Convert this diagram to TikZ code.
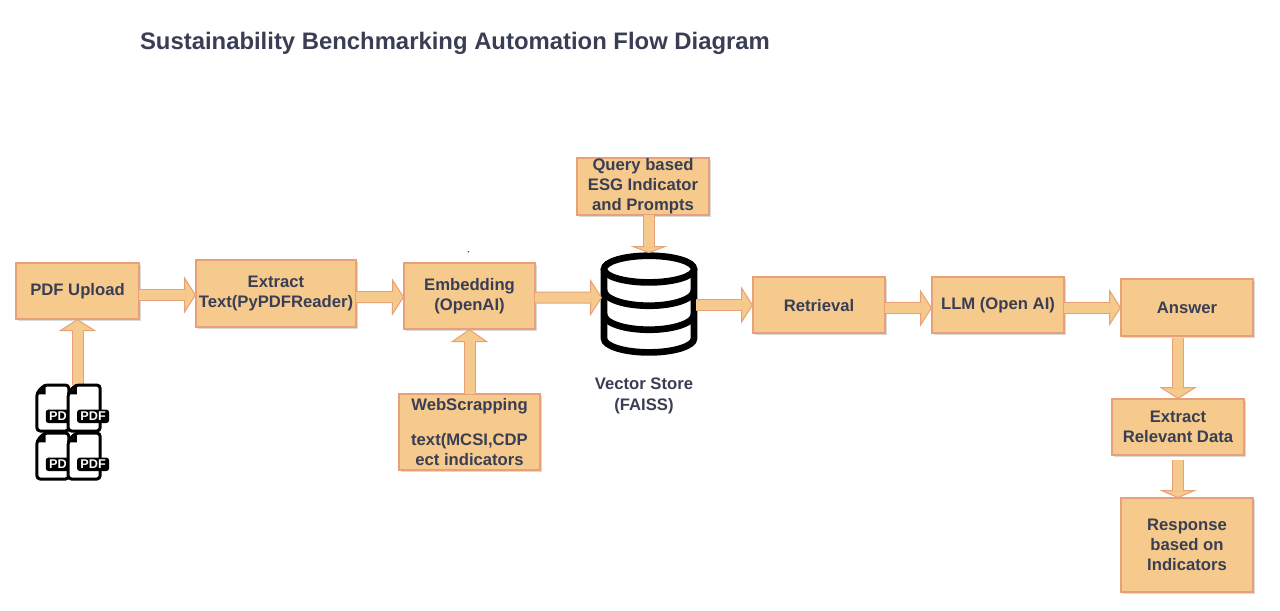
\documentclass[tikz,border=0pt]{standalone}
\usepackage{fontspec}
\setmainfont{Liberation Sans}
\usepackage{tikz}
\usetikzlibrary{arrows.meta,positioning,shadows}
\usepackage{xcolor}
\definecolor{boxfill}{RGB}{245,202,140}
\definecolor{boxedge}{RGB}{232,160,120}
\definecolor{inktext}{RGB}{58,62,84}

\begin{document}
\begin{tikzpicture}[>=Stealth, x=1pt, y=1pt]
\tikzset{
  n/.style={draw=boxedge, line width=1pt, fill=boxfill, align=center, inner sep=0pt, outer sep=0pt, text=inktext, font=\fontsize{12.5pt}{15pt}\selectfont\bfseries, drop shadow={shadow xshift=1.5pt, shadow yshift=-1.5pt, opacity=.3, fill=gray}},
  flow/.style={line width=9pt, draw=boxedge, -{Triangle[length=#1, width=28pt, fill=boxfill, line width=.75pt]}, postaction={draw=boxfill, -, line width=7.5pt, shorten >=#1-.75pt}},
  flow/.default=9pt,
  pdfdoc/.pic={
    \draw[line width=2.25pt, fill=white, rounded corners=2.5pt] (5.5,0) -- (24,0) -- (24,-34.5) -- (0,-34.5) -- (0,-6) -- cycle;
    \fill[black] (6.5,-.5) -- (6.5,-7) -- (.5,-7) -- cycle;
    \node[fill=black, rounded corners=2pt, text=white, minimum width=24pt, minimum height=10pt, inner sep=0pt, font=\fontsize{9.5pt}{10pt}\selectfont\bfseries, anchor=west] (-label) at (6.5,-23.5) {PDF};
  },
  dbstore/.pic={
    \draw[line width=5pt, fill=white] (-33.75,0) -- (-33.75,-52) arc[start angle=180, end angle=360, x radius=33.75pt, y radius=10.5pt] -- (33.75,0);
    \draw[line width=5pt, fill=white] (0,0) ellipse[x radius=33.75pt, y radius=10pt];
    \draw[line width=5pt] (-33.75,-16) arc[start angle=180, end angle=360, x radius=33.75pt, y radius=11.5pt];
    \draw[line width=5pt] (-33.75,-34) arc[start angle=180, end angle=360, x radius=33.75pt, y radius=11.5pt];
    \coordinate (-west) at (-35.25,-21.4);
    \coordinate (-east) at (35.25,-27);
    \coordinate (-north) at (0,12);
    \coordinate (-south) at (0,-65);
  }
}
\useasboundingbox (0,0) rectangle (960pt,-457.5pt);
\node[text=inktext, font=\fontsize{17.9pt}{20pt}\selectfont\bfseries] (title) at (341.25pt,-32.25pt) {Sustainability Benchmarking Automation Flow Diagram};

\node[n, minimum width=92.25pt, minimum height=42pt] (upload) at (58.125pt,-218.25pt) {PDF Upload};
\node[n, minimum width=120pt, minimum height=50.25pt, right=42.75pt of upload, yshift=-1.9pt] (extract) {Extract\\Text(PyPDFReader)};
\node[n, minimum width=98.25pt, minimum height=49.5pt, right=36pt of extract, yshift=-1.9pt] (embed) {Embedding\\(OpenAI)};
\node[n, minimum width=99pt, minimum height=42.75pt, above right=36pt and 31.5pt of embed.north east, anchor=south west] (query) {Query based\\ESG Indicator\\and Prompts};
\node[n, minimum width=105.75pt, minimum height=57pt, below=48.75pt of embed] (web) {WebScrapping\\[11.25pt]text(MCSI,CDP\\ect indicators};
\node[n, minimum width=99pt, minimum height=42pt, right=163.5pt of embed, yshift=-6.75pt] (retrieval) {Retrieval};
\node[n, minimum width=99pt, minimum height=42pt, right=35.25pt of retrieval] (llm) {LLM (Open AI)};
\node[n, minimum width=99pt, minimum height=42.75pt, right=42.75pt of llm, yshift=-1.9pt] (answer) {Answer};
\node[n, minimum width=99pt, minimum height=42pt, below=47.25pt of answer, xshift=-6.75pt] (relevant) {Extract\\Relevant Data};
\node[n, minimum width=99pt, minimum height=70.5pt, below=32.25pt of relevant, xshift=6.75pt] (response) {Response\\based on\\Indicators};

\coordinate[above right=20.25pt and 85.5pt of embed.east] (storetop);
\pic (store) at (storetop) {dbstore};
\node[text=inktext, align=center, inner sep=0pt, font=\fontsize{12.5pt}{15.75pt}\selectfont\bfseries, below=16.5pt of store-south, xshift=-3.75pt] (storelabel) {Vector Store\\(FAISS)};
\fill[black] ([xshift=-.75pt,yshift=8.5pt]embed.north) coordinate (speck) circle (.5pt);

\coordinate[below=49.5pt of upload.south] (pdfs);
\draw[flow] (pdfs) -- (upload.south);
\foreach \nm/\dx/\dy in {pdfa/-30.5/0, pdfb/-7/0, pdfc/-30.5/-36, pdfd/-7/-36}
  \pic (\nm) at ([xshift=\dx pt,yshift=\dy pt]pdfs) {pdfdoc};

\draw[flow] ([yshift=-3pt]upload.east) -- ([yshift=-1.1pt]extract.west);
\draw[flow] ([yshift=-2.6pt]extract.east) -- ([yshift=-.75pt]embed.west);
\draw[flow] ([yshift=-1.1pt]embed.east) -- (store-west);
\draw[flow=5.25pt] ([xshift=4.5pt]query.south) -- (store-north);
\draw[flow=9.75pt] (web.north) -- (embed.south);
\draw[flow] (store-east) -- (retrieval.west);
\draw[flow] ([yshift=-2.25pt]retrieval.east) -- ([yshift=-2.25pt]llm.west);
\draw[flow] ([yshift=-1.9pt]llm.east) -- (answer.west);
\draw[flow] ([xshift=-6.75pt,yshift=-1.5pt]answer.south) -- (relevant.north);
\draw[flow=6pt] ([yshift=-3.75pt]relevant.south) -- ([xshift=-6.75pt]response.north);
\end{tikzpicture}
\end{document}
